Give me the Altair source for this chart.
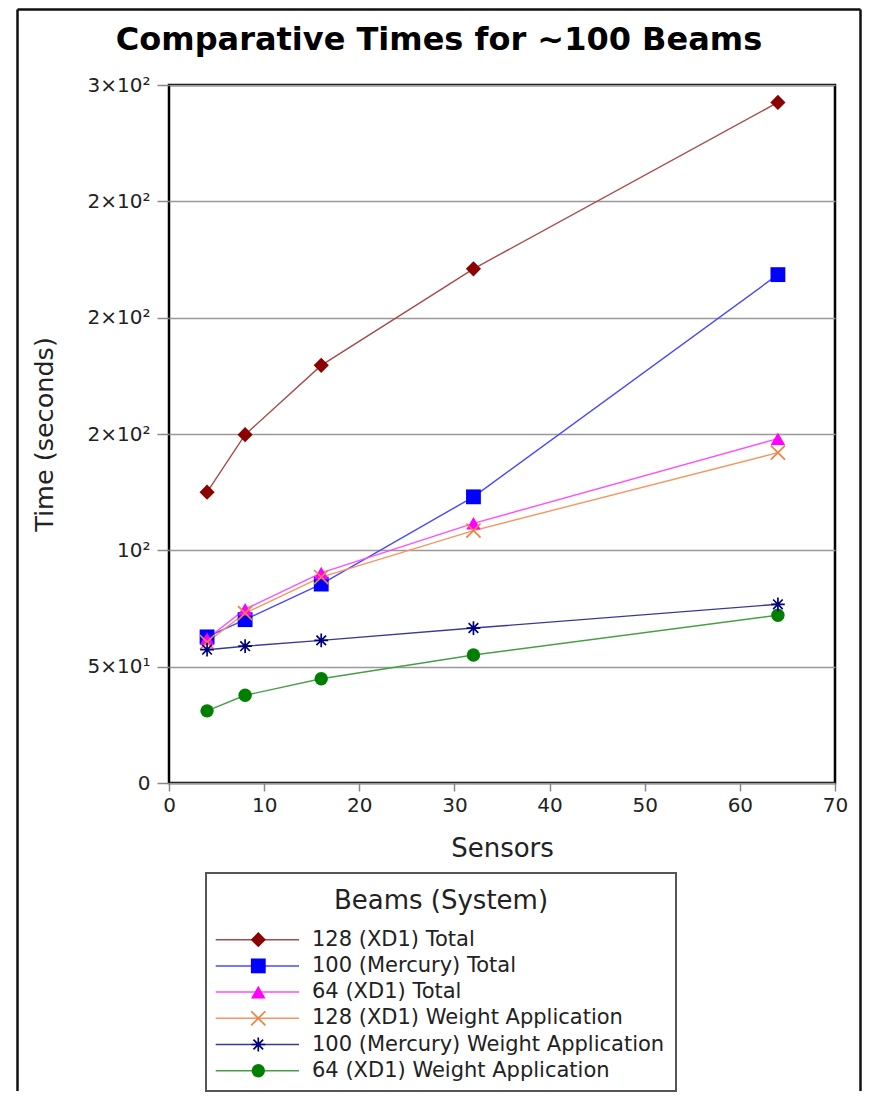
import altair as alt
import pandas as pd

# ---------------- data ----------------
sensors = [4, 8, 16, 32, 64]
series_names = [
    "128 (XD1) Total",
    "100 (Mercury) Total",
    "64 (XD1) Total",
    "128 (XD1) Weight Application",
    "100 (Mercury) Weight Application",
    "64 (XD1) Weight Application",
]
total_128_xd1 = [125.0, 149.7, 179.5, 221.0, 292.5]
total_100_mercury = [62.8, 70.2, 85.5, 123.0, 218.5]
total_64_xd1 = [62.0, 74.7, 90.3, 111.6, 148.0]
weight_128_xd1 = [60.5, 73.0, 88.5, 108.5, 142.0]
weight_100_mercury = [57.3, 58.8, 61.3, 66.6, 76.8]
weight_64_xd1 = [31.0, 37.7, 44.8, 55.0, 72.1]
series_values = [total_128_xd1, total_100_mercury, total_64_xd1,
                 weight_128_xd1, weight_100_mercury, weight_64_xd1]

x_tick_values = [0, 10, 20, 30, 40, 50, 60, 70]
y_tick_values = [0, 50, 100, 150, 200, 250, 300]
y_tick_labels = ["0", "5×10¹", "10²", "2×10²", "2×10²", "2×10²", "3×10²"]

chart_title = "Comparative Times for ~100 Beams"
x_title = "Sensors"
y_title = "Time (seconds)"
legend_title = "Beams (System)"

# ---------------- styles ----------------
line_colors = ["#a64b4b", "#4848ff", "#ff4dff", "#f4965f", "#3a3a96", "#45a045"]
marker_colors = ["#8b0000", "#0000ff", "#ff00ff", "#f08040", "#000080", "#007f00"]
X_PATH = "M-1,-1L1,1M-1,1L1,-1"
STAR_PATH = "M0,-1L0,1M-1,0L1,0M-0.7,-0.7L0.7,0.7M-0.7,0.7L0.7,-0.7"
marker_shapes = ["diamond", "square", "triangle-up", X_PATH, STAR_PATH, "circle"]
marker_sizes = [230, 180, 230, 170, 170, 220]
filled_series = [series_names[i] for i in (0, 1, 2, 5)]
open_series = [series_names[i] for i in (3, 4)]

rows = []
for name, vals in zip(series_names, series_values):
    for s, v in zip(sensors, vals):
        rows.append({"series": name, "sensors": s, "time": v})
df = pd.DataFrame(rows)

label_expr = "'" + y_tick_labels[-1] + "'"
for v, l in zip(reversed(y_tick_values[:-1]), reversed(y_tick_labels[:-1])):
    label_expr = f"datum.value == {v} ? '{l}' : ({label_expr})"

line_color_scale = alt.Scale(domain=series_names, range=line_colors)
marker_color_scale = alt.Scale(domain=series_names, range=marker_colors)
shape_scale = alt.Scale(domain=series_names, range=marker_shapes)
size_scale = alt.Scale(domain=series_names, range=marker_sizes)

x_enc = alt.X(
    "sensors:Q",
    scale=alt.Scale(domain=[0, 70], nice=False, zero=False),
    axis=alt.Axis(values=x_tick_values, title=x_title, grid=False, domain=False,
                  tickSize=8, tickColor="#888", tickWidth=1.5,
                  labelFontSize=20, labelPadding=4, labelColor="#222", labelFlush=False,
                  titleFontSize=26, titleFontWeight="normal", titleColor="#222",
                  titleY=73, titleBaseline="alphabetic"),
)
y_enc = alt.Y(
    "time:Q",
    scale=alt.Scale(domain=[0, 300], nice=False),
    axis=alt.Axis(values=y_tick_values, labelExpr=label_expr, title=y_title,
                  grid=True, gridColor="#999", gridWidth=1.5, domain=False,
                  tickSize=12, tickColor="#888", tickWidth=1.5,
                  labelFontSize=20, labelPadding=7, labelColor="#222",
                  titleFontSize=25.5, titleFontWeight="normal", titleColor="#222",
                  titleX=-125, titleBaseline="middle"),
)

lines = alt.Chart(df).mark_line(strokeWidth=1.4).encode(
    x=x_enc, y=y_enc,
    color=alt.Color("series:N", scale=line_color_scale, legend=None),
)
pts_filled = alt.Chart(df).transform_filter(
    alt.FieldOneOfPredicate(field="series", oneOf=filled_series)
).mark_point(filled=True, opacity=1, strokeWidth=0).encode(
    x=x_enc, y=y_enc,
    fill=alt.Fill("series:N", scale=marker_color_scale, legend=None),
    shape=alt.Shape("series:N", scale=shape_scale, legend=None),
    size=alt.Size("series:N", scale=size_scale, legend=None),
)
pts_open = alt.Chart(df).transform_filter(
    alt.FieldOneOfPredicate(field="series", oneOf=open_series)
).mark_point(filled=False, opacity=1, strokeWidth=1.7).encode(
    x=x_enc, y=y_enc,
    stroke=alt.Stroke("series:N", scale=marker_color_scale, legend=None),
    shape=alt.Shape("series:N", scale=shape_scale, legend=None),
    size=alt.Size("series:N", scale=size_scale, legend=None),
)
plot = alt.layer(lines, pts_filled, pts_open)

# ---------------- legend (below the plot, own row scale) ----------------
legend_df = pd.DataFrame({"series": series_names, "row": list(range(len(series_names)))})
legend_title_df = pd.DataFrame({"label": [legend_title], "row": [-1.489]})
ly = alt.Y("row:Q", scale=alt.Scale(domain=[-32.622, -5.981], reverse=True, nice=False,
                                    zero=False), axis=None)
one = pd.DataFrame({"k": [0]})

leg_box = alt.Chart(one).mark_rect(filled=False, color="#555", strokeWidth=2).encode(
    x=alt.value(37), x2=alt.value(507), y=alt.value(788), y2=alt.value(1006))
leg_lines = alt.Chart(legend_df).mark_rule(strokeWidth=1.5).encode(
    x=alt.value(46.7), x2=alt.value(130), y=ly,
    color=alt.Color("series:N", scale=line_color_scale, legend=None),
)
leg_filled = alt.Chart(legend_df).transform_filter(
    alt.FieldOneOfPredicate(field="series", oneOf=filled_series)
).mark_point(filled=True, opacity=1, strokeWidth=0).encode(
    x=alt.value(89.3), y=ly,
    fill=alt.Fill("series:N", scale=marker_color_scale, legend=None),
    shape=alt.Shape("series:N", scale=shape_scale, legend=None),
    size=alt.Size("series:N", scale=size_scale, legend=None),
)
leg_open = alt.Chart(legend_df).transform_filter(
    alt.FieldOneOfPredicate(field="series", oneOf=open_series)
).mark_point(filled=False, opacity=1, strokeWidth=1.7).encode(
    x=alt.value(89.3), y=ly,
    stroke=alt.Stroke("series:N", scale=marker_color_scale, legend=None),
    shape=alt.Shape("series:N", scale=shape_scale, legend=None),
    size=alt.Size("series:N", scale=size_scale, legend=None),
)
leg_text = alt.Chart(legend_df).mark_text(align="left", baseline="middle", fontSize=21,
                                          color="#222").encode(
    x=alt.value(143), y=ly, text="series:N")
leg_title = alt.Chart(legend_title_df).mark_text(align="center", baseline="middle",
                                                 fontSize=26, color="#222").encode(
    x=alt.value(272), y=ly, text="label:N")
legend_layer = alt.layer(leg_lines, leg_filled, leg_open, leg_text, leg_title)

# ---------------- outer picture frame (decoration) ----------------
frame_style = dict(color="#111", strokeWidth=2.5)
FL, FR, FT, FB = -151.5, 691.5, -75.5, 1006
frame_top = alt.Chart(one).mark_rule(**frame_style).encode(
    x=alt.value(FL), x2=alt.value(FR), y=alt.value(FT))
frame_left = alt.Chart(one).mark_rule(**frame_style).encode(
    x=alt.value(FL), y=alt.value(FT), y2=alt.value(FB))
frame_right = alt.Chart(one).mark_rule(**frame_style).encode(
    x=alt.value(FR), y=alt.value(FT), y2=alt.value(FB))

chart = alt.layer(plot, legend_layer, leg_box, frame_top, frame_left, frame_right).resolve_scale(
    y="independent"
).properties(
    width=666, height=698,
    title=alt.Title(chart_title, fontSize=32, fontWeight="bold", color="black",
                    anchor="middle", frame="bounds", offset=-73.5,
                    baseline="alphabetic"),
    view=alt.ViewBackground(stroke="black", strokeWidth=2.5),
    padding={"left": 8, "top": 0, "right": 0, "bottom": 0},
).configure(font="DejaVu Sans")

chart.save("out.html", embed_options={"renderer": "svg", "actions": False})
